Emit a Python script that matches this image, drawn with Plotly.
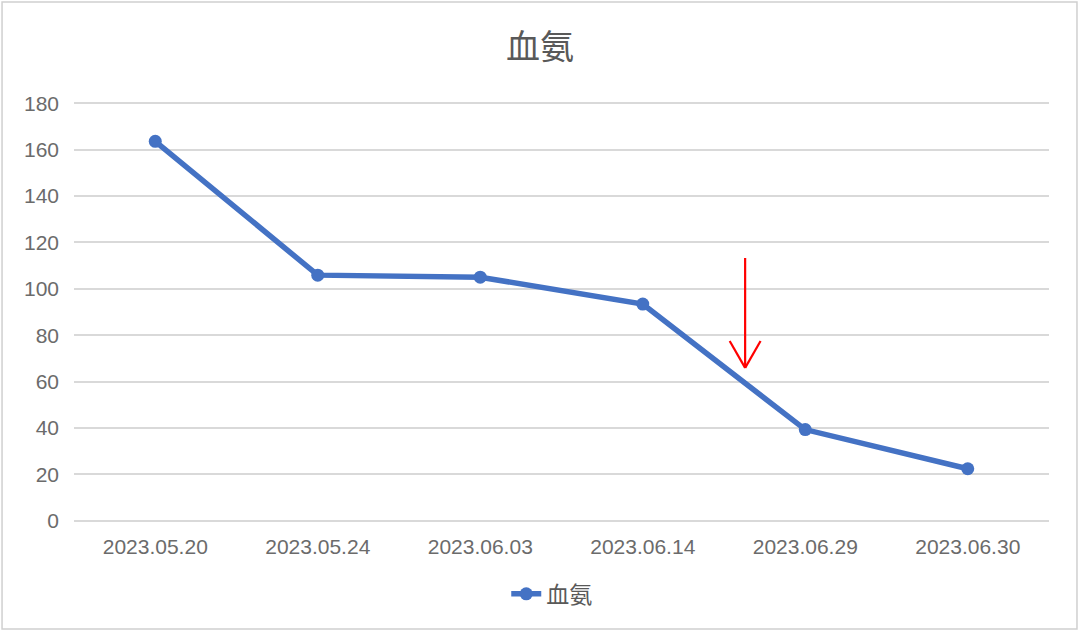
import plotly.graph_objects as go

# data
dates = ["2023.05.20", "2023.05.24", "2023.06.03", "2023.06.14", "2023.06.29", "2023.06.30"]
ammonia = [163.6, 105.9, 105.0, 93.4, 39.3, 22.4]
y_ticks = [0, 20, 40, 60, 80, 100, 120, 140, 160, 180]

# red marker arrow (category index, value range)
arrow_x = 3.63
arrow_top = 113.3
arrow_tip = 65.9
arrow_wing = 77.5

LINE_BLUE = "#4472C4"
TEXT_GRAY = "#6B6B6B"
GRID_GRAY = "#D9D9D9"

fig = go.Figure()
fig.add_trace(
    go.Scatter(
        x=dates,
        y=ammonia,
        mode="lines+markers",
        name="血氨",
        line=dict(color=LINE_BLUE, width=5.5),
        marker=dict(color=LINE_BLUE, size=13),
    )
)

# arrow drawn as three line segments
wing_dx = 0.095
for x0, y0, x1, y1 in [
    (arrow_x, arrow_top, arrow_x, arrow_tip),
    (arrow_x - wing_dx, arrow_wing, arrow_x, arrow_tip),
    (arrow_x + wing_dx, arrow_wing, arrow_x, arrow_tip),
]:
    fig.add_shape(
        type="line", xref="x", yref="y",
        x0=x0, y0=y0, x1=x1, y1=y1,
        line=dict(color="#FF0000", width=2.2),
    )

# light frame around the whole chart (paper coords relative to plot area 74..1049 x 101..523)
fig.add_shape(
    type="rect", xref="paper", yref="paper",
    x0=-0.0738, x1=1.0287, y0=-0.251, y1=1.2346,
    line=dict(color="#D0D0D0", width=1.5),
    layer="below",
)

fig.update_layout(
    width=1080,
    height=634,
    margin=dict(l=74, r=31, t=101, b=111),
    paper_bgcolor="white",
    plot_bgcolor="white",
    font=dict(family="Liberation Sans, Arial, Noto Sans CJK SC", color=TEXT_GRAY, size=21),
    title=dict(
        text="血氨",
        x=0.5,
        xanchor="center",
        y=0.925,
        yanchor="middle",
        font=dict(family="Noto Sans CJK SC", size=34, color="#595959"),
    ),
    showlegend=True,
    legend=dict(
        orientation="h",
        x=0.49,
        xanchor="center",
        y=-0.168,
        yanchor="middle",
        font=dict(family="Noto Sans CJK SC", size=23, color="#595959"),
    ),
    xaxis=dict(
        type="category",
        range=[-0.5, 5.5],
        showgrid=False,
        showline=False,
        zeroline=False,
        ticks="",
        ticklabelstandoff=9,
        tickfont=dict(size=21, color=TEXT_GRAY),
    ),
    yaxis=dict(
        range=[-1, 181],
        tickvals=y_ticks,
        showgrid=True,
        gridcolor=GRID_GRAY,
        gridwidth=2,
        zeroline=False,
        showline=False,
        ticks="",
        ticklabelstandoff=14,
        tickfont=dict(size=21, color=TEXT_GRAY),
    ),
)

fig.write_html(
    "out.html",
    config={"displayModeBar": False},
    post_script="document.body.style.margin='0';",
)
